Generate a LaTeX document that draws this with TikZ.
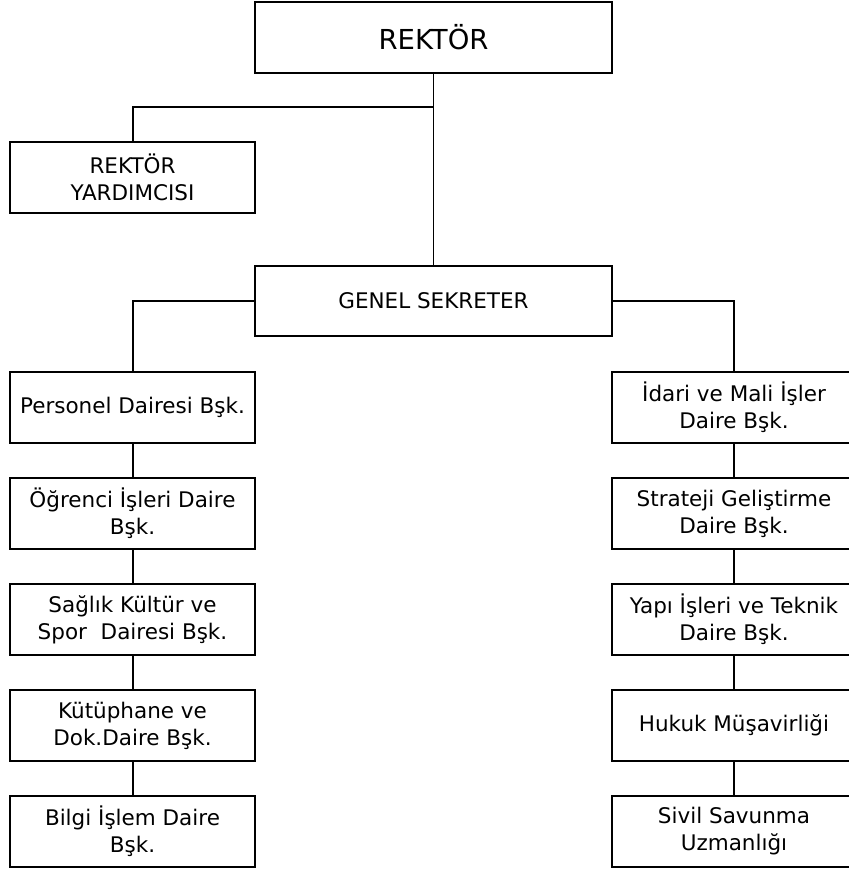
\documentclass[tikz,border=0pt]{standalone}
\usepackage{fontspec}
\setmainfont{DejaVu Sans}
\usetikzlibrary{positioning}

\tikzset{
    unitbox/.style={draw, line width=2pt, align=center, inner sep=0pt,
        minimum width=245pt, minimum height=71pt,
        font=\fontsize{21.5}{27}\selectfont},
    headbox/.style={unitbox, minimum width=357pt},
    link/.style={line width=2pt}
}

\begin{document}
\begin{tikzpicture}[x=1pt, y=-1pt]
    \useasboundingbox (0,0) rectangle (849,871);
    \clip (0,0) rectangle (849,871);

    % Top level
    \node[headbox, font=\fontsize{27.5}{32}\selectfont] (rektor) at (433.5,37.5) {REKTÖR};
    \node[unitbox] (yard) at (132.5,177.5) {REKTÖR\\YARDIMCISI};
    \node[headbox, minimum height=70pt] (genel) at (433.5,301) {GENEL SEKRETER};

    % Left column
    \foreach \i/\t in {1/{Personel Dairesi Bşk.},
                       2/{Öğrenci İşleri Daire\\Bşk.},
                       3/{Sağlık Kültür ve\\Spor~ Dairesi Bşk.},
                       4/{Kütüphane ve\\Dok.Daire Bşk.},
                       5/{Bilgi İşlem Daire\\Bşk.}}
        \node[unitbox] (left\i) at (132.5,{301.5+106*\i}) {\t};

    % Right column (cut by the page edge)
    \foreach \i/\t in {1/{İdari ve Mali İşler\\Daire Bşk.},
                       2/{Strateji Geliştirme\\Daire Bşk.},
                       3/{Yapı İşleri ve Teknik\\Daire Bşk.},
                       4/{Hukuk Müşavirliği},
                       5/{Sivil Savunma\\Uzmanlığı}}
        \node[unitbox, minimum width=244pt] (right\i) at (734,{301.5+106*\i}) {\t};

    % Connectors
    \draw[line width=1.2pt] (rektor) -- (genel);
    \coordinate (fork) at (433.5,107);
    \draw[link] (fork) -| (yard.north);
    \draw[link] (genel.west) -| (left1.north);
    \draw[link] (genel.east) -| (right1.north);
    \foreach \i [evaluate=\i as \j using int(\i+1)] in {1,...,4} {
        \draw[link] (left\i) -- (left\j);
        \draw[link] (right\i) -- (right\j);
    }
\end{tikzpicture}
\end{document}
